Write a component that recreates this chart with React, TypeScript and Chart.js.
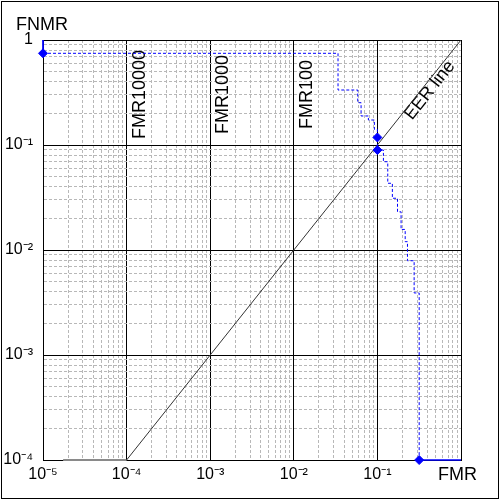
import React, { useEffect, useRef } from 'react';
import { Chart, registerables } from 'chart.js';

Chart.register(...registerables);

// ---- axis decades / tick labels ----
const xDecadeExps = [-5, -4, -3, -2, -1, 0];
const xDecadeLabels = ['10⁻⁵', '10⁻⁴', '10⁻³', '10⁻²', '10⁻¹', ''];
const yDecadeExps = [-4, -3, -2, -1, 0];
const yDecadeLabels = ['10⁻⁴', '10⁻³', '10⁻²', '10⁻¹', '1'];
const minorMultipliers = [1, 2, 3, 4, 5, 6, 7, 8, 9];

// ---- DET curve (stepped, horizontal move then vertical drop) ----
const detFmr = [1e-5, 0.0338, 0.0582, 0.0638, 0.078, 0.092, 0.1, 0.1, 0.118, 0.133, 0.151, 0.174, 0.192, 0.215, 0.229, 0.275, 0.316];
const detFnmr = [0.747, 0.334, 0.253, 0.189, 0.173, 0.141, 0.118, 0.0896, 0.0693, 0.0432, 0.0311, 0.0231, 0.0157, 0.012, 0.0079, 0.0039, 1e-4];

// marked points
const markerFmr = [1e-5, 0.1, 0.1, 0.316];
const markerFnmr = [0.747, 0.118, 0.0896, 1e-4];

// solid end pieces of the curve
const headFmr = [1e-5, 1e-5];
const headFnmr = [1, 0.747];
const tailFmr = [0.316, 1];
const tailFnmr = [1e-4, 1e-4];

// EER line (FMR = FNMR)
const eerFmr = [1e-4, 1];
const eerFnmr = [1e-4, 1];
const eerFloorFmr = [1.74e-5, 1e-4];
const eerFnmrFloor = [1e-4, 1e-4];

// fixed FMR reference lines
const fmrLineValues = [1e-4, 1e-3, 1e-2];
const fmrLineLabels = ['FMR10000', 'FMR1000', 'FMR100'];

const FONT = '"Liberation Sans", Arial, sans-serif';

const zip = (xs: number[], ys: number[]) => xs.map((x, i) => ({ x, y: ys[i] }));

const isMajor = (v: number) => {
  const l = Math.log10(v);
  return Math.abs(l - Math.round(l)) < 1e-6;
};

const buildTicks = (exps: number[]) => {
  const out: { value: number }[] = [];
  exps.forEach((e, i) => {
    if (i === exps.length - 1) {
      out.push({ value: Math.pow(10, e) });
    } else {
      minorMultipliers.forEach((m) => out.push({ value: m * Math.pow(10, e) }));
    }
  });
  return out;
};

const labelFor = (exps: number[], labels: string[]) => (value: any) => {
  const v = Number(value);
  if (!isMajor(v)) return '';
  const idx = exps.indexOf(Math.round(Math.log10(v)));
  return idx >= 0 ? labels[idx] : '';
};

const annotate = {
  id: 'annotate',
  beforeDatasetsDraw(chart: any) {
    const { ctx, chartArea, scales } = chart;
    const xs = scales.x;
    const ys = scales.y;
    ctx.save();
    ctx.fillStyle = '#000';
    ctx.font = `18px ${FONT}`;
    ctx.textBaseline = 'alphabetic';
    // vertical FMR labels
    fmrLineValues.forEach((v, i) => {
      const px = xs.getPixelForValue(v);
      ctx.save();
      ctx.translate(px + 18, chartArea.top + 54.5);
      ctx.rotate(-Math.PI / 2);
      ctx.textAlign = 'center';
      ctx.fillText(fmrLineLabels[i], 0, 0);
      ctx.restore();
    });
    // EER line label
    const x0 = xs.getPixelForValue(eerFmr[0]);
    const y0 = ys.getPixelForValue(eerFnmr[0]);
    const x1 = xs.getPixelForValue(eerFmr[1]);
    const y1 = ys.getPixelForValue(eerFnmr[1]);
    const ang = Math.atan2(y1 - y0, x1 - x0);
    const fx = xs.getPixelForValue(0.2);
    const fy = ys.getPixelForValue(0.2);
    const nx = -Math.sin(ang);
    const ny = Math.cos(ang);
    const off = 12;
    ctx.save();
    ctx.translate(fx - nx * off * -1, fy + ny * off);
    ctx.rotate(ang);
    ctx.textAlign = 'left';
    ctx.fillText('EER line', 0, 0);
    ctx.restore();
    ctx.restore();
  },
  afterDraw(chart: any) {
    const { ctx, chartArea } = chart;
    ctx.save();
    ctx.fillStyle = '#000';
    ctx.font = `18px ${FONT}`;
    ctx.textBaseline = 'alphabetic';
    ctx.textAlign = 'left';
    ctx.fillText('FNMR', chartArea.left - 27, chartArea.top - 10.5);
    ctx.fillText('FMR', chartArea.right - 23, chartArea.bottom + 20);
    ctx.strokeStyle = '#000';
    ctx.lineWidth = 1;
    ctx.strokeRect(1.5, 1.5, 497, 497);
    ctx.restore();
  },
};

export default function App() {
  const ref = useRef<HTMLCanvasElement | null>(null);
  useEffect(() => {
    if (!ref.current) return;
    const gridColor = (c: any) => (c.tick && isMajor(c.tick.value) ? '#000000' : '#b8b8b8');
    const gridDash = (c: any) => (c.tick && !isMajor(c.tick.value) ? [3, 2] : []);
    const blue = '#0000ff';
    const chart = new Chart(ref.current, {
      type: 'scatter',
      data: {
        datasets: [
          {
            data: zip(markerFmr, markerFnmr),
            showLine: false,
            pointStyle: 'rectRot',
            pointRadius: 4.5,
            backgroundColor: blue,
            borderColor: blue,
            borderWidth: 1,
            clip: false,
          },
          {
            data: zip(detFmr, detFnmr),
            showLine: true,
            stepped: 'before',
            borderColor: blue,
            borderWidth: 1,
            borderDash: [3, 2],
            pointRadius: 0,
            clip: false,
          },
          {
            data: zip(headFmr, headFnmr),
            showLine: true,
            borderColor: blue,
            borderWidth: 1,
            pointRadius: 0,
            clip: false,
          },
          {
            data: zip(tailFmr, tailFnmr),
            showLine: true,
            borderColor: blue,
            borderWidth: 1.5,
            pointRadius: 0,
            clip: false,
          },
          {
            data: zip(eerFmr, eerFnmr),
            showLine: true,
            borderColor: '#333333',
            borderWidth: 1,
            pointRadius: 0,
          },
          {
            data: zip(eerFloorFmr, eerFnmrFloor),
            showLine: true,
            borderColor: '#8a8a8a',
            borderWidth: 2,
            pointRadius: 0,
            clip: false,
          },
        ],
      } as any,
      options: {
        responsive: false,
        animation: false,
        events: [],
        layout: { padding: { top: 40, right: 39, left: 0, bottom: 0 } },
        plugins: { legend: { display: false }, tooltip: { enabled: false } },
        scales: {
          x: {
            type: 'logarithmic',
            min: 1e-5,
            max: 1,
            afterBuildTicks: (s: any) => {
              s.ticks = buildTicks(xDecadeExps);
            },
            afterFit: (s: any) => {
              s.height = 40;
            },
            ticks: {
              autoSkip: false,
              maxRotation: 0,
              minRotation: 0,
              padding: 5,
              color: '#000',
              font: { family: FONT, size: 16 },
              callback: labelFor(xDecadeExps, xDecadeLabels),
            },
            grid: { color: gridColor, lineWidth: 1, drawTicks: false },
            border: { display: true, color: '#000', width: 1, dash: gridDash },
          },
          y: {
            type: 'logarithmic',
            min: 1e-4,
            max: 1,
            afterBuildTicks: (s: any) => {
              s.ticks = buildTicks(yDecadeExps);
            },
            afterFit: (s: any) => {
              s.width = 43;
            },
            ticks: {
              autoSkip: false,
              padding: 10,
              color: '#000',
              font: { family: FONT, size: 16 },
              callback: labelFor(yDecadeExps, yDecadeLabels),
            },
            grid: { color: gridColor, lineWidth: 1, drawTicks: false },
            border: { display: true, color: '#000', width: 1, dash: gridDash },
          },
        },
      } as any,
      plugins: [annotate],
    });
    return () => chart.destroy();
  }, []);
  return (
    <div style={{ position: 'absolute', left: 0, top: 0, width: 500, height: 500, background: '#fff' }}>
      <canvas ref={ref} width={500} height={500} style={{ display: 'block', width: 500, height: 500 }} />
    </div>
  );
}
